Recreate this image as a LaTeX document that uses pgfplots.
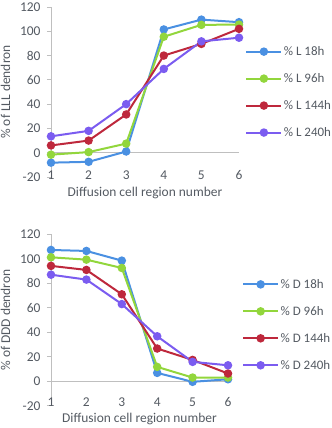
\documentclass[border=0pt]{standalone}
\usepackage{fontspec}
\setmainfont{Carlito}
\usepackage{pgfplots}
\pgfplotsset{compat=1.18}

\definecolor{txt}{RGB}{84,90,98}
\definecolor{axgray}{RGB}{191,191,191}
\definecolor{cblue}{RGB}{74,144,226}
\definecolor{cgreen}{RGB}{146,214,60}
\definecolor{cred}{RGB}{190,40,60}
\definecolor{cpurple}{RGB}{123,92,240}

\pgfplotsset{
  chartstyle/.style={
    scale only axis,
    clip=false,
    xmin=1, xmax=6, ymin=-20, ymax=120,
    axis x line*=middle, axis y line*=left,
    axis line style={axgray, line width=0.9bp},
    xtick={1,...,6}, xticklabels={1,2,3,4,5,6},
    ytick={-20,0,...,120}, yticklabels={-20,0,20,40,60,80,100,120},
    major x tick style={draw=none},
    y tick style={axgray, line width=0.9bp},
    tick align=outside, major tick length=4bp,
    tick label style={font=\fontsize{13.5}{16}\selectfont, text=txt},
    xticklabel style={anchor=center},
    yticklabel style={xshift=-3bp},
    label style={font=\fontsize{13.5}{16}\selectfont, text=txt},
    every axis y label/.append style={anchor=center, rotate=0},
    every axis x label/.append style={anchor=center},
    legend style={draw=none, fill=none, font=\fontsize{13}{15}\selectfont,
      text=txt, row sep=12.5bp, inner sep=0pt, outer sep=0pt,
      nodes={inner xsep=1.5bp}},
    legend cell align=left,
    legend image code/.code={\draw[mark repeat=2, mark phase=2]
      plot coordinates {(0bp,0bp) (17.5bp,0bp) (35bp,0bp)};},
    every axis plot/.append style={line width=2bp, mark=*, mark size=3.2bp,
      mark options={solid}},
    hide obscured x ticks=false,
  },
}

\begin{document}
\begin{tikzpicture}
\useasboundingbox (0,0) rectangle (332bp,428bp);

% top chart: LLL dendron
\begin{axis}[chartstyle,
  at={(51bp,251bp)}, anchor=south west,
  width=188bp, height=170bp,
  xticklabel style={yshift=-18.3bp},
  xlabel={Diffusion cell region number},
  ylabel={\% of LLL dendron},
  xlabel style={at={(axis description cs:0.5,-0.092)}},
  ylabel style={at={(axis description cs:-0.242,0.5)}},
  legend style={at={(axis description cs:1.034,0.78)}, anchor=north west},
]
\addplot[cblue] coordinates {(1,-8.2) (2,-7.5) (3,1) (4,101.5) (5,109.6) (6,107.5)};
\addplot[cgreen] coordinates {(1,-1.6) (2,0.5) (3,7.5) (4,95.5) (5,105.3) (6,105.5)};
\addplot[cred] coordinates {(1,6) (2,10) (3,31.5) (4,80) (5,89.6) (6,102)};
\addplot[cpurple] coordinates {(1,13.5) (2,18) (3,40) (4,69) (5,91.7) (6,94.7)};
\legend{\% L 18h, \% L 96h, \% L 144h, \% L 240h}
\end{axis}

% bottom chart: DDD dendron
\begin{axis}[chartstyle,
  at={(51bp,22.3bp)}, anchor=south west,
  width=177bp, height=171.4bp,
  xticklabel style={yshift=-16.7bp},
  xlabel={Diffusion cell region number},
  ylabel={\% of DDD dendron},
  xlabel style={at={(axis description cs:0.5,-0.078)}},
  ylabel style={at={(axis description cs:-0.257,0.5)}},
  legend style={at={(axis description cs:1.08,0.75)}, anchor=north west},
]
\addplot[cblue] coordinates {(1,107.2) (2,106.4) (3,98.5) (4,6.8) (5,-0.5) (6,1.6)};
\addplot[cgreen] coordinates {(1,101.2) (2,99.3) (3,92.5) (4,11.7) (5,3) (6,3)};
\addplot[cred] coordinates {(1,94.2) (2,90.9) (3,71) (4,26.7) (5,17.4) (6,6.3)};
\addplot[cpurple] coordinates {(1,87) (2,83) (3,63) (4,36.7) (5,15.8) (6,13)};
\legend{\% D 18h, \% D 96h, \% D 144h, \% D 240h}
\end{axis}
\end{tikzpicture}
\end{document}
